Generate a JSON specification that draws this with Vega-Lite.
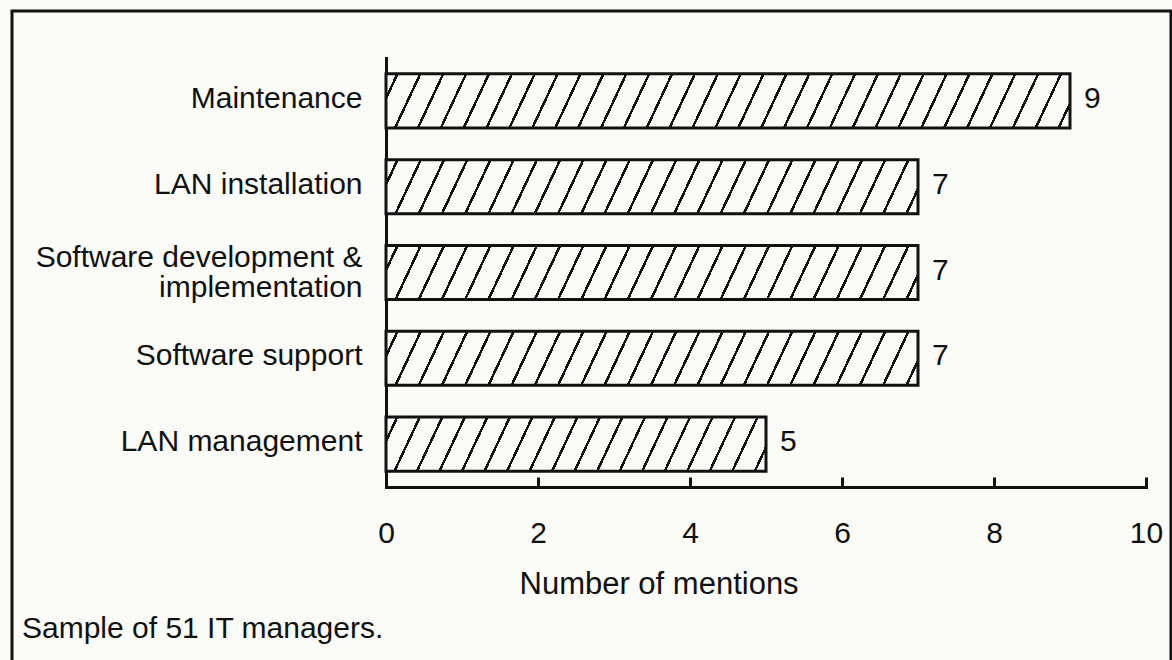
{
  "$schema": "https://vega.github.io/schema/vega-lite/v6.json",
  "width": 1159,
  "height": 649,
  "autosize": {"type": "none"},
  "padding": {"left": 12, "top": 11, "right": 1, "bottom": 0},
  "background": "#fafaf7",
  "config": {
    "font": "Liberation Sans",
    "view": {"stroke": "#111111", "strokeWidth": 3, "strokeDash": [1808, 1159, 649, 1], "fill": null}
  },
  "title": {
    "text": "Sample of 51 IT managers.",
    "orient": "bottom",
    "anchor": "start",
    "frame": "group",
    "offset": -22,
    "dx": 10,
    "baseline": "alphabetic",
    "fontSize": 30,
    "fontWeight": "normal",
    "color": "#111111"
  },
  "data": {
    "values": [
      {"category": "Maintenance", "value": 9},
      {"category": "LAN installation", "value": 7},
      {"category": "Software development & implementation", "value": 7},
      {"category": "Software support", "value": 7},
      {"category": "LAN management", "value": 5}
    ]
  },
  "encoding": {
    "y": {
      "field": "category",
      "type": "nominal",
      "sort": null,
      "scale": {
        "domain": ["Maintenance", "LAN installation", "Software development & implementation", "Software support", "LAN management"],
        "range": [47, 476],
        "paddingInner": 0.37,
        "paddingOuter": 0.185
      },
      "axis": {
        "title": null,
        "orient": "left",
        "offset": -374,
        "ticks": false,
        "grid": false,
        "domain": true,
        "domainColor": "#111111",
        "domainWidth": 3,
        "domainCap": "square",
        "labelFontSize": 30,
        "labelColor": "#111111",
        "labelPadding": 24,
        "labelAlign": "right",
        "labelBaseline": "middle",
        "labelLimit": 500,
        "labelLineHeight": 30,
        "labelOffset": {"condition": {"test": "datum.value == 'Software development & implementation'", "value": -15}, "value": -2},
        "labelExpr": "datum.value == 'Software development & implementation' ? ['Software development &', 'implementation'] : datum.value"
      }
    },
    "x": {
      "field": "value",
      "type": "quantitative",
      "scale": {"domain": [0, 10], "range": [374, 1134], "nice": false, "zero": true},
      "axis": {
        "title": "Number of mentions",
        "orient": "bottom",
        "offset": -173,
        "values": [0, 2, 4, 6, 8, 10],
        "format": "d",
        "grid": false,
        "ticks": true,
        "tickSize": -10,
        "tickWidth": 3,
        "tickColor": "#111111",
        "domainColor": "#111111",
        "domainWidth": 3,
        "domainCap": "square",
        "labelFontSize": 30,
        "labelColor": "#111111",
        "labelFlush": false,
        "labelPadding": 65,
        "labelBaseline": "alphabetic",
        "labelAlign": "center",
        "titleFontSize": 31,
        "titleFontWeight": "normal",
        "titleColor": "#111111",
        "titleX": 507,
        "titleY": 106,
        "titleAlign": "left",
        "titleAnchor": "start",
        "titleBaseline": "alphabetic"
      }
    }
  },
  "layer": [
    {
      "transform": [{"filter": "datum.value == 9"}],
      "mark": {
        "type": "bar",
        "stroke": "#111111",
        "strokeWidth": 3,
        "fill": {
          "gradient": "linear", "x1": 0, "y1": 0, "x2": 1.0356, "y2": 0.0383,
          "stops": [
            {"offset": 0.0142, "color": "#fafaf7"}, {"offset": 0.0142, "color": "#111111"}, {"offset": 0.0181, "color": "#111111"}, {"offset": 0.0181, "color": "#fafaf7"},
            {"offset": 0.0464, "color": "#fafaf7"}, {"offset": 0.0464, "color": "#111111"}, {"offset": 0.0503, "color": "#111111"}, {"offset": 0.0503, "color": "#fafaf7"},
            {"offset": 0.0787, "color": "#fafaf7"}, {"offset": 0.0787, "color": "#111111"}, {"offset": 0.0826, "color": "#111111"}, {"offset": 0.0826, "color": "#fafaf7"},
            {"offset": 0.1110, "color": "#fafaf7"}, {"offset": 0.1110, "color": "#111111"}, {"offset": 0.1148, "color": "#111111"}, {"offset": 0.1148, "color": "#fafaf7"},
            {"offset": 0.1432, "color": "#fafaf7"}, {"offset": 0.1432, "color": "#111111"}, {"offset": 0.1471, "color": "#111111"}, {"offset": 0.1471, "color": "#fafaf7"},
            {"offset": 0.1755, "color": "#fafaf7"}, {"offset": 0.1755, "color": "#111111"}, {"offset": 0.1794, "color": "#111111"}, {"offset": 0.1794, "color": "#fafaf7"},
            {"offset": 0.2077, "color": "#fafaf7"}, {"offset": 0.2077, "color": "#111111"}, {"offset": 0.2116, "color": "#111111"}, {"offset": 0.2116, "color": "#fafaf7"},
            {"offset": 0.2400, "color": "#fafaf7"}, {"offset": 0.2400, "color": "#111111"}, {"offset": 0.2439, "color": "#111111"}, {"offset": 0.2439, "color": "#fafaf7"},
            {"offset": 0.2723, "color": "#fafaf7"}, {"offset": 0.2723, "color": "#111111"}, {"offset": 0.2761, "color": "#111111"}, {"offset": 0.2761, "color": "#fafaf7"},
            {"offset": 0.3045, "color": "#fafaf7"}, {"offset": 0.3045, "color": "#111111"}, {"offset": 0.3084, "color": "#111111"}, {"offset": 0.3084, "color": "#fafaf7"},
            {"offset": 0.3368, "color": "#fafaf7"}, {"offset": 0.3368, "color": "#111111"}, {"offset": 0.3407, "color": "#111111"}, {"offset": 0.3407, "color": "#fafaf7"},
            {"offset": 0.3690, "color": "#fafaf7"}, {"offset": 0.3690, "color": "#111111"}, {"offset": 0.3729, "color": "#111111"}, {"offset": 0.3729, "color": "#fafaf7"},
            {"offset": 0.4013, "color": "#fafaf7"}, {"offset": 0.4013, "color": "#111111"}, {"offset": 0.4052, "color": "#111111"}, {"offset": 0.4052, "color": "#fafaf7"},
            {"offset": 0.4335, "color": "#fafaf7"}, {"offset": 0.4335, "color": "#111111"}, {"offset": 0.4374, "color": "#111111"}, {"offset": 0.4374, "color": "#fafaf7"},
            {"offset": 0.4658, "color": "#fafaf7"}, {"offset": 0.4658, "color": "#111111"}, {"offset": 0.4697, "color": "#111111"}, {"offset": 0.4697, "color": "#fafaf7"},
            {"offset": 0.4981, "color": "#fafaf7"}, {"offset": 0.4981, "color": "#111111"}, {"offset": 0.5019, "color": "#111111"}, {"offset": 0.5019, "color": "#fafaf7"},
            {"offset": 0.5303, "color": "#fafaf7"}, {"offset": 0.5303, "color": "#111111"}, {"offset": 0.5342, "color": "#111111"}, {"offset": 0.5342, "color": "#fafaf7"},
            {"offset": 0.5626, "color": "#fafaf7"}, {"offset": 0.5626, "color": "#111111"}, {"offset": 0.5665, "color": "#111111"}, {"offset": 0.5665, "color": "#fafaf7"},
            {"offset": 0.5948, "color": "#fafaf7"}, {"offset": 0.5948, "color": "#111111"}, {"offset": 0.5987, "color": "#111111"}, {"offset": 0.5987, "color": "#fafaf7"},
            {"offset": 0.6271, "color": "#fafaf7"}, {"offset": 0.6271, "color": "#111111"}, {"offset": 0.6310, "color": "#111111"}, {"offset": 0.6310, "color": "#fafaf7"},
            {"offset": 0.6594, "color": "#fafaf7"}, {"offset": 0.6594, "color": "#111111"}, {"offset": 0.6632, "color": "#111111"}, {"offset": 0.6632, "color": "#fafaf7"},
            {"offset": 0.6916, "color": "#fafaf7"}, {"offset": 0.6916, "color": "#111111"}, {"offset": 0.6955, "color": "#111111"}, {"offset": 0.6955, "color": "#fafaf7"},
            {"offset": 0.7239, "color": "#fafaf7"}, {"offset": 0.7239, "color": "#111111"}, {"offset": 0.7277, "color": "#111111"}, {"offset": 0.7277, "color": "#fafaf7"},
            {"offset": 0.7561, "color": "#fafaf7"}, {"offset": 0.7561, "color": "#111111"}, {"offset": 0.7600, "color": "#111111"}, {"offset": 0.7600, "color": "#fafaf7"},
            {"offset": 0.7884, "color": "#fafaf7"}, {"offset": 0.7884, "color": "#111111"}, {"offset": 0.7923, "color": "#111111"}, {"offset": 0.7923, "color": "#fafaf7"},
            {"offset": 0.8206, "color": "#fafaf7"}, {"offset": 0.8206, "color": "#111111"}, {"offset": 0.8245, "color": "#111111"}, {"offset": 0.8245, "color": "#fafaf7"},
            {"offset": 0.8529, "color": "#fafaf7"}, {"offset": 0.8529, "color": "#111111"}, {"offset": 0.8568, "color": "#111111"}, {"offset": 0.8568, "color": "#fafaf7"},
            {"offset": 0.8852, "color": "#fafaf7"}, {"offset": 0.8852, "color": "#111111"}, {"offset": 0.8890, "color": "#111111"}, {"offset": 0.8890, "color": "#fafaf7"},
            {"offset": 0.9174, "color": "#fafaf7"}, {"offset": 0.9174, "color": "#111111"}, {"offset": 0.9213, "color": "#111111"}, {"offset": 0.9213, "color": "#fafaf7"},
            {"offset": 0.9497, "color": "#fafaf7"}, {"offset": 0.9497, "color": "#111111"}, {"offset": 0.9535, "color": "#111111"}, {"offset": 0.9535, "color": "#fafaf7"},
            {"offset": 0.9819, "color": "#fafaf7"}, {"offset": 0.9819, "color": "#111111"}, {"offset": 0.9858, "color": "#111111"}, {"offset": 0.9858, "color": "#fafaf7"}
          ]
        }
      }
    },
    {
      "transform": [{"filter": "datum.value == 7"}],
      "mark": {
        "type": "bar",
        "stroke": "#111111",
        "strokeWidth": 3,
        "fill": {
          "gradient": "linear", "x1": 0, "y1": 0, "x2": 1.0452, "y2": 0.0498,
          "stops": [
            {"offset": 0.0183, "color": "#fafaf7"}, {"offset": 0.0183, "color": "#111111"}, {"offset": 0.0233, "color": "#111111"}, {"offset": 0.0233, "color": "#fafaf7"},
            {"offset": 0.0600, "color": "#fafaf7"}, {"offset": 0.0600, "color": "#111111"}, {"offset": 0.0650, "color": "#111111"}, {"offset": 0.0650, "color": "#fafaf7"},
            {"offset": 0.1017, "color": "#fafaf7"}, {"offset": 0.1017, "color": "#111111"}, {"offset": 0.1067, "color": "#111111"}, {"offset": 0.1067, "color": "#fafaf7"},
            {"offset": 0.1433, "color": "#fafaf7"}, {"offset": 0.1433, "color": "#111111"}, {"offset": 0.1483, "color": "#111111"}, {"offset": 0.1483, "color": "#fafaf7"},
            {"offset": 0.1850, "color": "#fafaf7"}, {"offset": 0.1850, "color": "#111111"}, {"offset": 0.1900, "color": "#111111"}, {"offset": 0.1900, "color": "#fafaf7"},
            {"offset": 0.2267, "color": "#fafaf7"}, {"offset": 0.2267, "color": "#111111"}, {"offset": 0.2317, "color": "#111111"}, {"offset": 0.2317, "color": "#fafaf7"},
            {"offset": 0.2683, "color": "#fafaf7"}, {"offset": 0.2683, "color": "#111111"}, {"offset": 0.2733, "color": "#111111"}, {"offset": 0.2733, "color": "#fafaf7"},
            {"offset": 0.3100, "color": "#fafaf7"}, {"offset": 0.3100, "color": "#111111"}, {"offset": 0.3150, "color": "#111111"}, {"offset": 0.3150, "color": "#fafaf7"},
            {"offset": 0.3517, "color": "#fafaf7"}, {"offset": 0.3517, "color": "#111111"}, {"offset": 0.3567, "color": "#111111"}, {"offset": 0.3567, "color": "#fafaf7"},
            {"offset": 0.3933, "color": "#fafaf7"}, {"offset": 0.3933, "color": "#111111"}, {"offset": 0.3983, "color": "#111111"}, {"offset": 0.3983, "color": "#fafaf7"},
            {"offset": 0.4350, "color": "#fafaf7"}, {"offset": 0.4350, "color": "#111111"}, {"offset": 0.4400, "color": "#111111"}, {"offset": 0.4400, "color": "#fafaf7"},
            {"offset": 0.4767, "color": "#fafaf7"}, {"offset": 0.4767, "color": "#111111"}, {"offset": 0.4817, "color": "#111111"}, {"offset": 0.4817, "color": "#fafaf7"},
            {"offset": 0.5183, "color": "#fafaf7"}, {"offset": 0.5183, "color": "#111111"}, {"offset": 0.5233, "color": "#111111"}, {"offset": 0.5233, "color": "#fafaf7"},
            {"offset": 0.5600, "color": "#fafaf7"}, {"offset": 0.5600, "color": "#111111"}, {"offset": 0.5650, "color": "#111111"}, {"offset": 0.5650, "color": "#fafaf7"},
            {"offset": 0.6017, "color": "#fafaf7"}, {"offset": 0.6017, "color": "#111111"}, {"offset": 0.6067, "color": "#111111"}, {"offset": 0.6067, "color": "#fafaf7"},
            {"offset": 0.6433, "color": "#fafaf7"}, {"offset": 0.6433, "color": "#111111"}, {"offset": 0.6483, "color": "#111111"}, {"offset": 0.6483, "color": "#fafaf7"},
            {"offset": 0.6850, "color": "#fafaf7"}, {"offset": 0.6850, "color": "#111111"}, {"offset": 0.6900, "color": "#111111"}, {"offset": 0.6900, "color": "#fafaf7"},
            {"offset": 0.7267, "color": "#fafaf7"}, {"offset": 0.7267, "color": "#111111"}, {"offset": 0.7317, "color": "#111111"}, {"offset": 0.7317, "color": "#fafaf7"},
            {"offset": 0.7683, "color": "#fafaf7"}, {"offset": 0.7683, "color": "#111111"}, {"offset": 0.7733, "color": "#111111"}, {"offset": 0.7733, "color": "#fafaf7"},
            {"offset": 0.8100, "color": "#fafaf7"}, {"offset": 0.8100, "color": "#111111"}, {"offset": 0.8150, "color": "#111111"}, {"offset": 0.8150, "color": "#fafaf7"},
            {"offset": 0.8517, "color": "#fafaf7"}, {"offset": 0.8517, "color": "#111111"}, {"offset": 0.8567, "color": "#111111"}, {"offset": 0.8567, "color": "#fafaf7"},
            {"offset": 0.8933, "color": "#fafaf7"}, {"offset": 0.8933, "color": "#111111"}, {"offset": 0.8983, "color": "#111111"}, {"offset": 0.8983, "color": "#fafaf7"},
            {"offset": 0.9350, "color": "#fafaf7"}, {"offset": 0.9350, "color": "#111111"}, {"offset": 0.9400, "color": "#111111"}, {"offset": 0.9400, "color": "#fafaf7"},
            {"offset": 0.9767, "color": "#fafaf7"}, {"offset": 0.9767, "color": "#111111"}, {"offset": 0.9817, "color": "#111111"}, {"offset": 0.9817, "color": "#fafaf7"}
          ]
        }
      }
    },
    {
      "transform": [{"filter": "datum.value == 5"}],
      "mark": {
        "type": "bar",
        "stroke": "#111111",
        "strokeWidth": 3,
        "fill": {
          "gradient": "linear", "x1": 0, "y1": 0, "x2": 1.0620, "y2": 0.0708,
          "stops": [
            {"offset": 0.0244, "color": "#fafaf7"}, {"offset": 0.0244, "color": "#111111"}, {"offset": 0.0311, "color": "#111111"}, {"offset": 0.0311, "color": "#fafaf7"},
            {"offset": 0.0800, "color": "#fafaf7"}, {"offset": 0.0800, "color": "#111111"}, {"offset": 0.0867, "color": "#111111"}, {"offset": 0.0867, "color": "#fafaf7"},
            {"offset": 0.1356, "color": "#fafaf7"}, {"offset": 0.1356, "color": "#111111"}, {"offset": 0.1422, "color": "#111111"}, {"offset": 0.1422, "color": "#fafaf7"},
            {"offset": 0.1911, "color": "#fafaf7"}, {"offset": 0.1911, "color": "#111111"}, {"offset": 0.1978, "color": "#111111"}, {"offset": 0.1978, "color": "#fafaf7"},
            {"offset": 0.2467, "color": "#fafaf7"}, {"offset": 0.2467, "color": "#111111"}, {"offset": 0.2533, "color": "#111111"}, {"offset": 0.2533, "color": "#fafaf7"},
            {"offset": 0.3022, "color": "#fafaf7"}, {"offset": 0.3022, "color": "#111111"}, {"offset": 0.3089, "color": "#111111"}, {"offset": 0.3089, "color": "#fafaf7"},
            {"offset": 0.3578, "color": "#fafaf7"}, {"offset": 0.3578, "color": "#111111"}, {"offset": 0.3644, "color": "#111111"}, {"offset": 0.3644, "color": "#fafaf7"},
            {"offset": 0.4133, "color": "#fafaf7"}, {"offset": 0.4133, "color": "#111111"}, {"offset": 0.4200, "color": "#111111"}, {"offset": 0.4200, "color": "#fafaf7"},
            {"offset": 0.4689, "color": "#fafaf7"}, {"offset": 0.4689, "color": "#111111"}, {"offset": 0.4756, "color": "#111111"}, {"offset": 0.4756, "color": "#fafaf7"},
            {"offset": 0.5244, "color": "#fafaf7"}, {"offset": 0.5244, "color": "#111111"}, {"offset": 0.5311, "color": "#111111"}, {"offset": 0.5311, "color": "#fafaf7"},
            {"offset": 0.5800, "color": "#fafaf7"}, {"offset": 0.5800, "color": "#111111"}, {"offset": 0.5867, "color": "#111111"}, {"offset": 0.5867, "color": "#fafaf7"},
            {"offset": 0.6356, "color": "#fafaf7"}, {"offset": 0.6356, "color": "#111111"}, {"offset": 0.6422, "color": "#111111"}, {"offset": 0.6422, "color": "#fafaf7"},
            {"offset": 0.6911, "color": "#fafaf7"}, {"offset": 0.6911, "color": "#111111"}, {"offset": 0.6978, "color": "#111111"}, {"offset": 0.6978, "color": "#fafaf7"},
            {"offset": 0.7467, "color": "#fafaf7"}, {"offset": 0.7467, "color": "#111111"}, {"offset": 0.7533, "color": "#111111"}, {"offset": 0.7533, "color": "#fafaf7"},
            {"offset": 0.8022, "color": "#fafaf7"}, {"offset": 0.8022, "color": "#111111"}, {"offset": 0.8089, "color": "#111111"}, {"offset": 0.8089, "color": "#fafaf7"},
            {"offset": 0.8578, "color": "#fafaf7"}, {"offset": 0.8578, "color": "#111111"}, {"offset": 0.8644, "color": "#111111"}, {"offset": 0.8644, "color": "#fafaf7"},
            {"offset": 0.9133, "color": "#fafaf7"}, {"offset": 0.9133, "color": "#111111"}, {"offset": 0.9200, "color": "#111111"}, {"offset": 0.9200, "color": "#fafaf7"},
            {"offset": 0.9689, "color": "#fafaf7"}, {"offset": 0.9689, "color": "#111111"}, {"offset": 0.9756, "color": "#111111"}, {"offset": 0.9756, "color": "#fafaf7"}
          ]
        }
      }
    },
    {
      "mark": {"type": "text", "align": "left", "baseline": "middle", "dx": 14, "dy": -2, "fontSize": 30, "color": "#111111"},
      "encoding": {
        "text": {"field": "value", "type": "quantitative"}
      }
    }
  ]
}
